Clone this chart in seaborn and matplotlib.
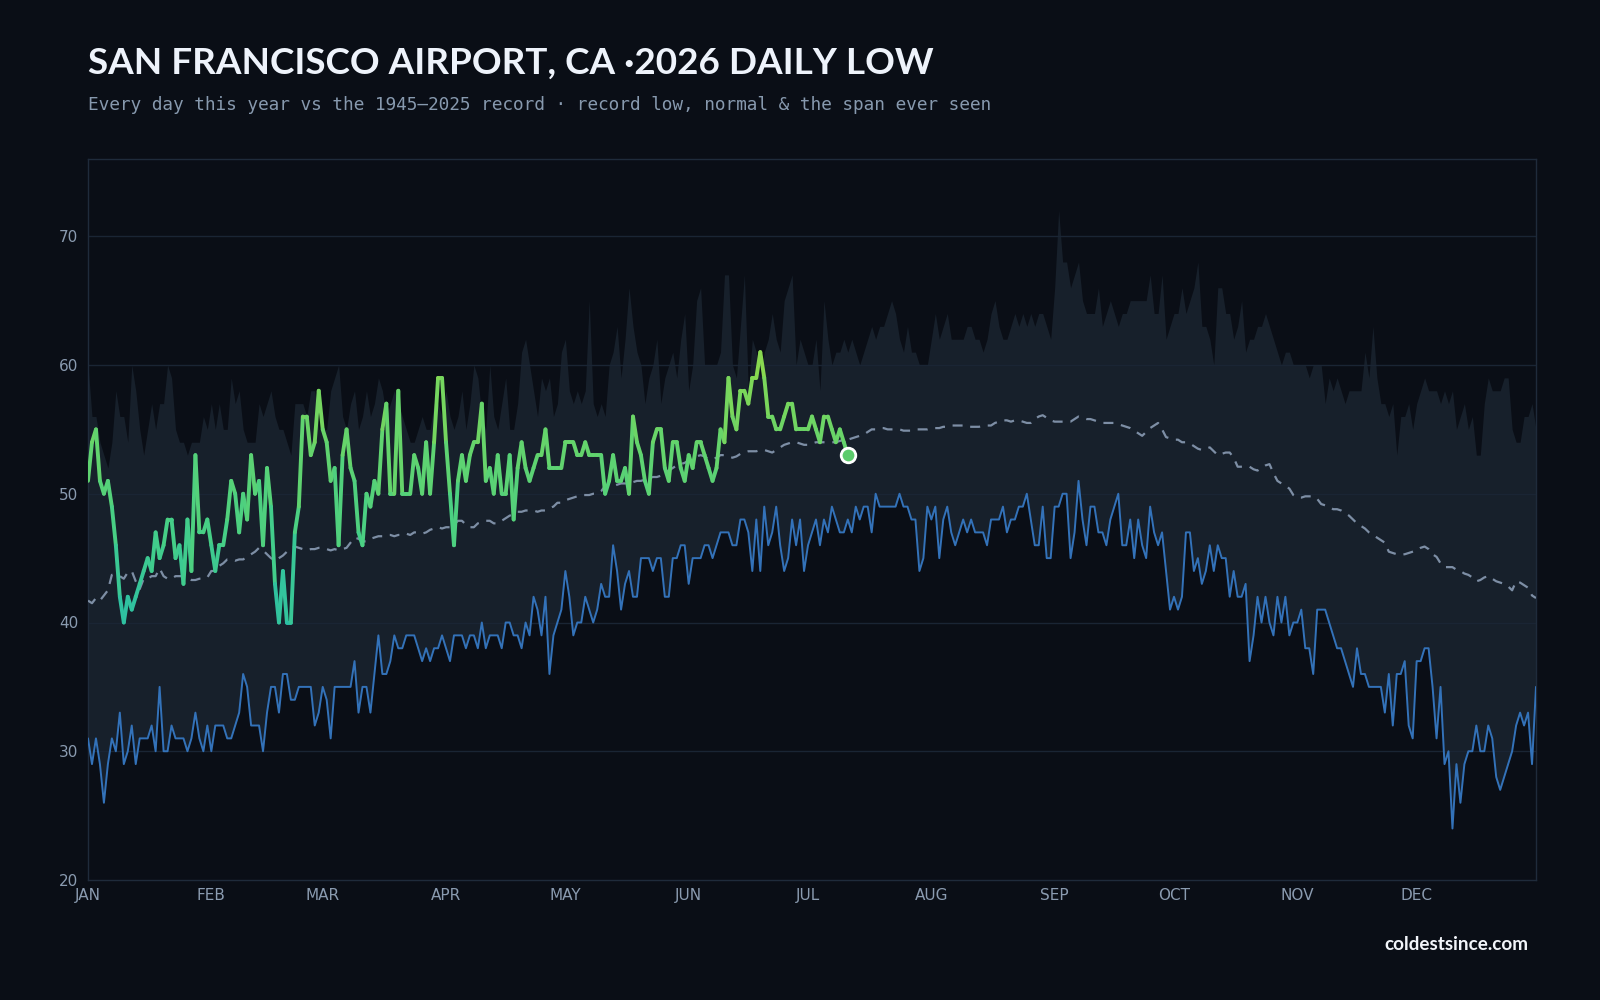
import numpy as np
import pandas as pd
import matplotlib
matplotlib.use("Agg")
import matplotlib.pyplot as plt
import seaborn as sns
from matplotlib.collections import LineCollection
from matplotlib.colors import LinearSegmentedColormap, Normalize

# ---------------- data ----------------
month_labels = ["JAN", "FEB", "MAR", "APR", "MAY", "JUN", "JUL", "AUG", "SEP", "OCT", "NOV", "DEC"]
month_starts = [0, 31, 59, 90, 120, 151, 181, 212, 243, 273, 304, 334]
y_ticks = [20, 30, 40, 50, 60, 70]

record_high = [
    60,56,56,54,53,52,54,58,56,56, 54,60,58,55,53,55,57,55,57,57,
    60,59,55,54,54,53,54,54,54,56, 55,57,55,57,55,55,59,57,58,55,
    54,54,54,57,56,57,58,56,55,55, 54,53,57,57,57,56,58,58,55,55,
    55,58,59,60,56,55,57,58,55,56, 58,56,57,59,58,56,57,58,57,56,
    55,54,54,55,56,55,55,57,57,56, 58,56,55,56,58,55,57,60,59,56,
    55,60,56,55,57,59,55,55,57,61, 62,60,58,56,59,58,59,56,57,61,
    62,58,57,58,57,58,65,57,56,57, 56,60,61,63,59,62,66,63,61,60,
    57,59,60,62,57,59,60,61,59,62, 64,58,60,65,66,60,60,60,60,61,
    67,67,60,59,63,67,58,62,61,59, 61,62,64,62,61,65,66,67,60,62,
    61,60,60,62,58,65,62,60,61,61, 62,61,62,61,60,61,62,63,62,63,
    63,64,65,64,62,61,63,61,61,60, 60,60,62,64,62,63,64,62,62,62,
    62,63,63,62,62,61,62,64,65,63, 62,62,63,64,63,64,63,64,63,64,
    64,63,62,66,72,68,68,66,67,68, 65,64,64,64,66,63,64,65,64,63,
    64,64,65,65,65,65,65,67,64,64, 67,62,63,64,64,66,64,65,66,68,
    63,63,62,60,66,66,64,64,62,63, 65,61,62,62,63,63,64,63,62,61,
    60,61,61,60,60,60,60,59,60,60, 60,57,59,58,59,58,57,58,58,58,
    58,61,59,63,59,57,57,56,57,53, 56,56,57,55,57,58,59,58,58,58,
    57,58,57,58,55,56,57,55,56,53, 53,57,59,58,58,58,59,59,55,54,
    54,56,56,57,55,
]

record_low = [
    31,29,31,29,26,29,31,30,33,29, 30,32,29,31,31,31,32,30,35,30,
    30,32,31,31,31,30,31,33,31,30, 32,30,32,32,32,31,31,32,33,36,
    35,32,32,32,30,33,35,35,33,36, 36,34,34,35,35,35,35,32,33,35,
    34,31,35,35,35,35,35,37,33,35, 35,33,36,39,36,36,37,39,38,38,
    39,39,39,38,37,38,37,38,38,39, 38,37,39,39,39,38,39,39,38,40,
    38,39,39,39,38,40,40,39,39,38, 40,39,42,41,39,42,36,39,40,41,
    44,42,39,40,40,42,41,40,41,43, 42,42,46,44,41,43,44,42,42,45,
    45,45,44,45,45,42,42,45,45,46, 46,43,45,45,45,46,46,45,46,47,
    47,47,46,46,48,48,47,44,48,44, 49,46,47,49,46,44,45,48,46,48,
    44,46,47,48,46,48,47,49,48,47, 47,48,47,49,48,49,49,47,50,49,
    49,49,49,49,50,49,49,48,48,44, 45,49,48,49,45,48,49,47,46,47,
    48,47,48,47,47,47,46,48,48,48, 49,47,48,48,49,49,50,48,46,46,
    49,45,45,49,49,50,50,45,47,51, 48,46,49,49,47,47,46,48,49,50,
    46,46,48,45,48,46,45,49,47,46, 47,44,41,42,41,42,47,47,44,45,
    43,44,46,44,46,45,45,42,44,42, 42,43,37,39,42,40,42,40,39,42,
    40,42,39,40,40,41,38,38,36,41, 41,41,40,39,38,38,37,36,35,38,
    36,36,35,35,35,35,33,36,32,36, 36,37,32,31,37,37,38,38,35,31,
    35,29,30,24,29,26,29,30,30,32, 30,30,32,31,28,27,28,29,30,32,
    33,32,33,29,35,
]

normal = [
    41.7,41.5,41.9,41.7,42.1,42.5,43.7,43.7,43.6,43.4, 43.9,44.0,43.2,42.6,43.4,43.4,43.6,43.6,44.2,43.6,
    43.4,43.4,43.6,43.6,43.6,43.5,43.3,43.3,43.4,43.4, 43.5,44.0,44.0,44.4,44.6,44.9,44.9,44.8,44.9,44.9,
    45.1,45.3,45.5,45.8,45.6,45.3,45.0,44.8,45.0,45.2, 45.5,45.7,45.9,45.8,45.7,45.6,45.7,45.7,45.8,45.8,
    45.7,45.6,45.7,45.6,45.7,45.8,46.2,46.6,46.5,46.3, 46.3,46.5,46.6,46.7,46.7,46.8,46.8,46.7,46.8,46.8,
    46.9,46.8,47.0,47.0,46.9,47.0,47.2,47.3,47.4,47.3, 47.4,47.4,47.6,47.9,47.9,47.6,47.4,47.4,47.7,47.8,
    47.9,47.9,47.7,47.7,47.9,48.1,48.3,48.4,48.6,48.6, 48.7,48.7,48.7,48.6,48.7,48.7,48.9,49.0,49.3,49.3,
    49.5,49.6,49.7,49.8,49.9,49.9,49.9,50.0,50.0,50.2, 50.6,50.6,50.6,50.7,50.8,50.8,50.9,50.9,51.0,51.0,
    51.1,51.2,51.3,51.3,51.4,51.7,51.8,52.0,52.2,52.3, 52.4,52.6,52.7,52.9,53.0,52.9,52.7,52.7,52.8,53.0,
    53.0,52.9,52.8,52.9,53.1,53.2,53.3,53.3,53.3,53.4, 53.4,53.3,53.2,53.4,53.6,53.8,53.9,54.0,54.0,53.9,
    53.8,53.8,53.9,54.0,54.0,54.0,54.0,54.0,54.0,54.1, 54.2,54.2,54.3,54.4,54.5,54.6,54.8,55.0,55.0,55.1,
    55.1,55.0,55.0,55.0,55.0,54.9,54.9,54.9,55.0,55.0, 55.0,55.0,55.1,55.1,55.1,55.2,55.2,55.3,55.3,55.3,
    55.3,55.2,55.2,55.2,55.2,55.3,55.3,55.3,55.5,55.6, 55.7,55.7,55.6,55.7,55.7,55.6,55.5,55.5,55.8,56.0,
    56.1,55.9,55.7,55.6,55.6,55.6,55.6,55.6,55.8,56.0, 55.9,55.8,55.8,55.7,55.6,55.5,55.5,55.5,55.5,55.4,
    55.3,55.2,55.1,54.9,54.7,54.5,54.8,55.1,55.3,55.5, 55.0,54.4,54.3,54.2,54.2,54.0,54.0,53.9,53.7,53.5,
    53.4,53.5,53.6,53.3,53.0,53.1,53.2,53.2,52.8,52.1, 52.1,52.1,52.1,51.9,51.8,52.0,52.2,52.3,51.6,51.0,
    50.8,50.6,50.4,49.9,49.7,49.7,49.8,49.8,49.8,49.6, 49.2,49.1,49.0,48.8,48.8,48.7,48.5,48.3,48.0,47.7,
    47.5,47.3,47.0,46.8,46.6,46.4,46.2,45.5,45.4,45.3, 45.3,45.3,45.4,45.5,45.6,45.8,45.9,45.7,45.3,45.1,
    44.6,44.3,44.3,44.3,44.1,44.0,43.8,43.7,43.5,43.2, 43.3,43.5,43.6,43.4,43.2,43.1,43.0,42.8,42.5,43.2,
    43.1,42.9,42.7,42.1,41.9,
]

this_year = [
    51,54,55,51,50,51,49,46,42,40, 42,41,42,43,44,45,44,47,45,46,
    48,48,45,46,43,48,44,53,47,47, 48,46,44,46,46,48,51,50,47,50,
    48,53,50,51,46,52,49,43,40,44, 40,40,47,49,56,56,53,54,58,55,
    54,51,52,46,53,55,52,51,47,46, 50,49,51,50,55,57,50,50,58,50,
    50,50,53,52,50,54,50,54,59,59, 54,50,46,51,53,51,53,54,54,57,
    51,52,50,53,50,50,53,48,52,54, 52,51,52,53,53,55,52,52,52,52,
    54,54,54,53,53,54,53,53,53,53, 50,51,53,51,51,52,50,56,54,53,
    51,50,54,55,55,52,51,54,54,52, 51,53,52,54,54,53,52,51,52,55,
    54,59,56,55,58,58,57,59,59,61, 59,56,56,55,55,56,57,57,55,55,
    55,55,56,55,54,56,56,55,54,55, 54,53,
]

# ---------------- style ----------------
BG = "#0a0e16"
BAND = "#17202b"
GRID = "#1a2534"
SPINE = "#1f2b3b"
TICK = "#8a9bb0"
BLUE = "#3372b9"
NORMAL_C = "#7d8ea5"

sns.set_theme(style="dark")
plt.rcParams["font.family"] = ["DejaVu Sans"]

days = np.arange(len(record_low))
clim = pd.DataFrame({"day": days, "record_low": record_low, "record_high": record_high, "normal": normal})
cur = pd.DataFrame({"day": np.arange(len(this_year)), "temp": this_year})

fig = plt.figure(figsize=(16, 10), dpi=100, facecolor=BG)
ax = fig.add_axes([0.055, 0.12, 0.905, 0.721])
ax.set_facecolor(BG)

# band: span ever seen
ax.fill_between(clim["day"], clim["record_low"], clim["record_high"], color=BAND, lw=0, zorder=1)

# grid
for yv in [30, 40, 50, 60, 70]:
    ax.axhline(yv, color=GRID, lw=1.0, zorder=1.5)

# record low
sns.lineplot(data=clim, x="day", y="record_low", ax=ax, color=BLUE, linewidth=1.4, zorder=3, legend=False)
# normal (dashed)
sns.lineplot(data=clim, x="day", y="normal", ax=ax, color=NORMAL_C, linewidth=1.6, zorder=3, legend=False)
ax.lines[-1].set_dashes([4.5, 3.5])

# this year, gradient coloured by value
cmap = LinearSegmentedColormap.from_list("yr", ["#2bbfa6", "#46cf86", "#66d46a", "#8ed94c"])
pts = np.column_stack([cur["day"].values, cur["temp"].values]).reshape(-1, 1, 2)
segs = np.concatenate([pts[:-1], pts[1:]], axis=1)
segval = (cur["temp"].values[:-1] + cur["temp"].values[1:]) / 2.0
lc = LineCollection(segs, cmap=cmap, norm=Normalize(40, 61), linewidth=2.8,
                    capstyle="round", joinstyle="round", zorder=4)
lc.set_array(segval)
ax.add_collection(lc)

# end marker
last = cur.iloc[-1]
ax.scatter([last["day"]], [last["temp"]], s=110, color="#5ccb6c", edgecolor="white",
           linewidth=2.0, zorder=5)

# axes
ax.set_xlim(0, 364)
ax.set_ylim(20, 76)
ax.set_xticks(month_starts)
ax.set_xticklabels(month_labels)
ax.set_yticks(y_ticks)
ax.set_xlabel("")
ax.set_ylabel("")
ax.grid(False)
ax.tick_params(axis="both", colors=TICK, labelcolor=TICK, labelsize=11, length=4, width=1, pad=3)
ax.tick_params(axis="x", pad=2)
for s in ax.spines.values():
    s.set_visible(True)
    s.set_color(SPINE)
    s.set_linewidth(1.0)

# texts
fig.text(0.055, 0.937, "SAN FRANCISCO AIRPORT, CA ·2026 DAILY LOW", fontsize=26.6, fontweight="bold",
         color="#eef3fb", family=["Lato", "DejaVu Sans"], va="center", ha="left")
fig.text(0.055, 0.895, "Every day this year vs the 1945–2025 record · record low, normal & the span ever seen",
         fontsize=12.75, color="#8799ae", family=["DejaVu Sans Mono"], va="center", ha="left")
fig.text(0.955, 0.056, "coldestsince.com", fontsize=13.6, fontweight="bold", color="#f2f5fa",
         family=["Lato", "DejaVu Sans"], va="center", ha="right")

fig.savefig("out.png", dpi=100, facecolor=BG)
